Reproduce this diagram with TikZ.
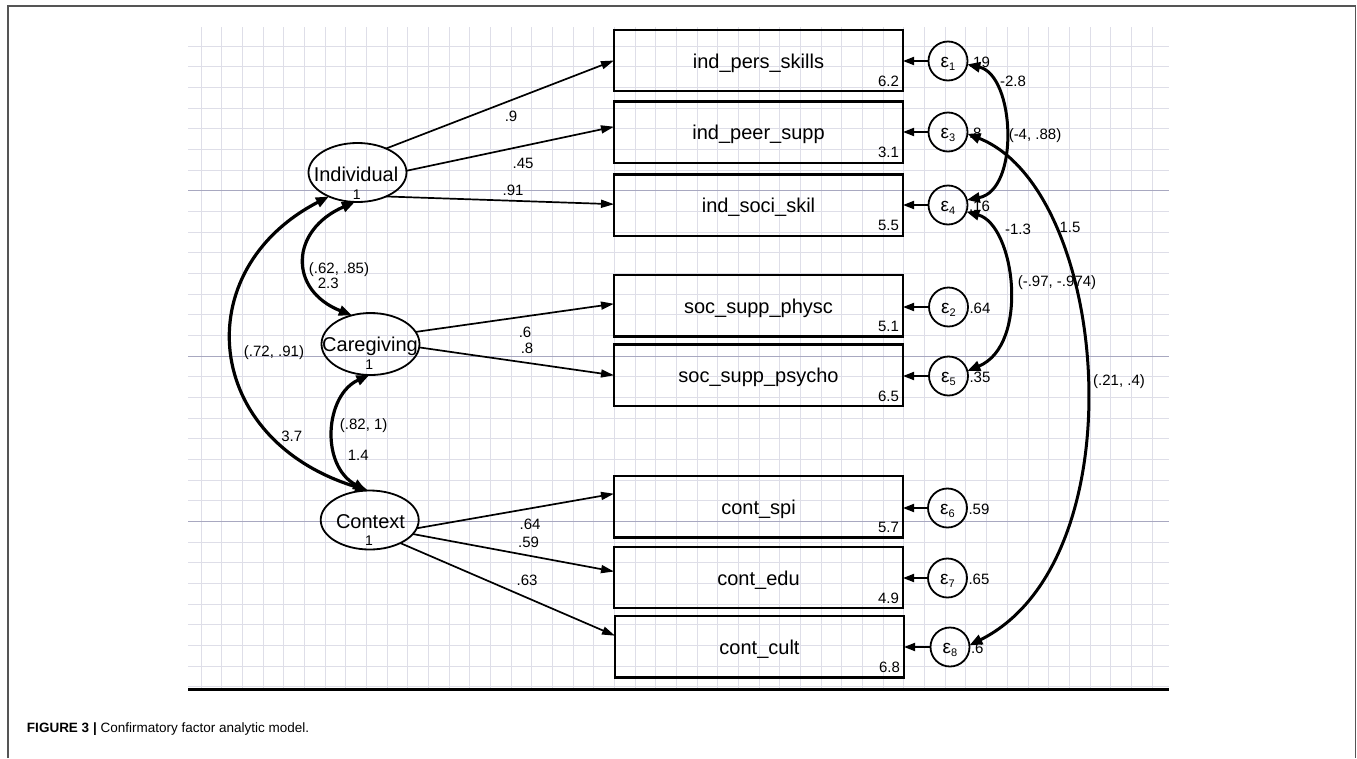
\documentclass[tikz,border=0pt]{standalone}
\usepackage{fontspec}
\setmainfont{Liberation Sans}
\usetikzlibrary{arrows.meta,shapes.geometric,calc}
\definecolor{gridc}{RGB}{222,222,232}
\definecolor{gridd}{RGB}{168,168,192}
\definecolor{framec}{RGB}{85,85,85}
\begin{document}
\begin{tikzpicture}[x=1pt,y=-1pt,
  every node/.style={inner sep=0pt, outer sep=0pt},
  obs/.style={draw, line width=2.2pt, minimum width=289pt, minimum height=61.5pt, text height=15pt, text depth=0pt, font=\fontsize{20}{24}\selectfont},
  lat/.style={draw, ellipse, line width=1.8pt, minimum width=98pt, minimum height=59pt},
  err/.style={draw, circle, line width=1.8pt, minimum size=39pt, text height=12pt, text depth=0pt, font=\fontsize{19}{22}\selectfont},
  latlab/.style={font=\fontsize{20}{24}\selectfont, anchor=base},
  one/.style={font=\fontsize{14}{16}\selectfont, anchor=base},
  num/.style={font=\fontsize{15}{18}\selectfont},
  load/.style={line width=1.7pt, -{Triangle[length=13pt,width=8pt]}},
  earrow/.style={line width=1.8pt, -{Triangle[length=11pt,width=8pt]}},
  cov/.style={line width=3.2pt, {Triangle[length=13pt,width=10pt]}-{Triangle[length=13pt,width=10pt]}},
  gridl/.style={draw=gridc, line width=1pt},
  gridk/.style={draw=gridd, line width=1pt}
]
\useasboundingbox (0,0) rectangle (1357,758);
% frame
\draw[framec, line width=1.3pt] (8,758) -- (8,6) -- (1355.7,6) -- (1355.7,758);
% grid
\foreach \i in {0,...,46} \draw[gridl] ({201+20.675*\i},27) -- ({201+20.675*\i},689);
\foreach \k in {0,...,31} \draw[gridl] (188,{46+20.67*\k}) -- (1169,{46+20.67*\k});
\foreach \k in {7,15,23} \draw[gridk] (188,{46+20.67*\k}) -- (1169,{46+20.67*\k});
\draw[black, line width=3pt] (188,689) -- (1169,689);

% observed variables
\node[obs] (b1) at (758.5,60.5) {ind\_pers\_skills};
\node[obs] (b2) at (758.5,132.2) {ind\_peer\_supp};
\node[obs] (b3) at (758.5,205.2) {ind\_soci\_skil};
\node[obs] (b4) at (758.5,305.8) {soc\_supp\_physc};
\node[obs] (b5) at (758.5,375.3) {soc\_supp\_psycho};
\node[obs] (b6) at (758.5,506.7) {cont\_spi};
\node[obs] (b7) at (758.5,577.5) {cont\_edu};
\node[obs] (b8) at (759.5,646.7) {cont\_cult};

\node[num, anchor=base east] (m1) at ($(b1.south east)+(-4,-5)$) {6.2};
\node[num, anchor=base east] (m2) at ($(b2.south east)+(-4,-5)$) {3.1};
\node[num, anchor=base east] (m3) at ($(b3.south east)+(-4,-5)$) {5.5};
\node[num, anchor=base east] (m4) at ($(b4.south east)+(-4,-5)$) {5.1};
\node[num, anchor=base east] (m5) at ($(b5.south east)+(-4,-5)$) {6.5};
\node[num, anchor=base east] (m6) at ($(b6.south east)+(-4,-5)$) {5.7};
\node[num, anchor=base east] (m7) at ($(b7.south east)+(-4,-5)$) {4.9};
\node[num, anchor=base east] (m8) at ($(b8.south east)+(-4,-5)$) {6.8};

% latent variables
\node[lat] (ind) at (357.5,172.5) {};
\node[lat, minimum height=62pt] (care) at (370.5,344) {};
\node[lat] (ctx) at (369.7,520) {};
\node[latlab] (tind) at (356,181.7) {Individual};
\node[one] (oind) at (356.7,199.3) {1};
\node[latlab] (tcare) at (370,351.7) {Caregiving};
\node[one] (ocare) at (369.3,369.3) {1};
\node[latlab] (tctx) at (370.5,528.3) {Context};
\node[one] (octx) at (369,545) {1};

% error terms
\node[err] (e1) at (948,61) {ε\raisebox{-3pt}{\fontsize{11}{12}\selectfont 1}};
\node[err] (e3) at (948,132) {ε\raisebox{-3pt}{\fontsize{11}{12}\selectfont 3}};
\node[err] (e4) at (948,205) {ε\raisebox{-3pt}{\fontsize{11}{12}\selectfont 4}};
\node[err] (e2) at (948.5,307) {ε\raisebox{-3pt}{\fontsize{11}{12}\selectfont 2}};
\node[err] (e5) at (948.5,376) {ε\raisebox{-3pt}{\fontsize{11}{12}\selectfont 5}};
\node[err] (e6) at (947.5,508) {ε\raisebox{-3pt}{\fontsize{11}{12}\selectfont 6}};
\node[err] (e7) at (947.5,578) {ε\raisebox{-3pt}{\fontsize{11}{12}\selectfont 7}};
\node[err] (e8) at (950,647) {ε\raisebox{-3pt}{\fontsize{11}{12}\selectfont 8}};

\foreach \e/\b in {e1/b1,e3/b2,e4/b3,e2/b4,e5/b5,e6/b6,e7/b7,e8/b8}
  \draw[earrow] (\e.west) -- (\e.west -| \b.east);

% variances
\node[num, anchor=base west] (v1) at ($(e1.east)+(1.5,6.5)$) {.19};
\node[num, anchor=base west] (v3) at ($(e3.east)+(1.5,6.5)$) {.8};
\node[num, anchor=base west] (v4) at ($(e4.east)+(1.5,6.5)$) {.16};
\node[num, anchor=base west] (v2) at ($(e2.east)+(1.5,6.5)$) {.64};
\node[num, anchor=base west] (v5) at ($(e5.east)+(1.5,6.5)$) {.35};
\node[num, anchor=base west] (v6) at ($(e6.east)+(1.5,6.5)$) {.59};
\node[num, anchor=base west] (v7) at ($(e7.east)+(1.5,6.5)$) {.65};
\node[num, anchor=base west] (v8) at ($(e8.east)+(1.5,6.5)$) {.6};

% loadings
\draw[load] (ind.40) -- (b1.west);
\draw[load] (ind.2) -- ([yshift=5.5pt]b2.west);
\draw[load] (ind.-40) -- ([yshift=1pt]b3.west);
\draw[load] (care.15) -- ([yshift=2pt]b4.west);
\draw[load] (care.-4) -- (b5.west);
\draw[load] (ctx.-10) -- ([yshift=13pt]b6.west);
\draw[load] (ctx.-18) -- ([yshift=6pt]b7.west);
\draw[load] (ctx.-37) -- ([yshift=11pt]b8.west);

\node[num] (l1) at (511,116.7) {.9};
\node[num] (l2) at (523,163) {.45};
\node[num] (l3) at (513,190.7) {.91};
\node[num] (l4) at (525,332) {.6};
\node[num] (l5) at (527,348.5) {.8};
\node[num] (l6) at (530,524.5) {.64};
\node[num] (l7) at (528.5,542) {.59};
\node[num] (l8) at (527,580) {.63};

% covariance labels (left)
\node[num] (c1a) at (339,269.3) {(.62, .85)};
\node[num] (c1b) at (328.3,283) {2.3};
\node[num] (c2a) at (274,352.7) {(.72, .91)};
\node[num] (c2b) at (291.7,436) {3.7};
\node[num] (c3a) at (363.7,426) {(.82, 1)};
\node[num] (c3b) at (358.3,455.7) {1.4};
% covariance labels (right)
\node[num] (r1a) at (1013,81) {-2.8};
\node[num] (r1b) at (1035,136) {(-4, .88)};
\node[num] (r2a) at (1018,229) {-1.3};
\node[num] (r2b) at (1057,283) {(-.97, -.974)};
\node[num] (r3a) at (1070,227) {1.5};
\node[num] (r3b) at (1119,382) {(.21, .4)};

% covariances
\draw[cov] (ind.265) .. controls (290,230) and (288,290) .. (care.123);
\draw[cov] (ind.220) .. controls (187,270) and (202,440) .. (ctx.93);
\draw[cov] (care.268) .. controls (325,395) and (320,465) .. (ctx.97);
\draw[cov, line width=3pt] (e1.-10) .. controls (1015,75) and (1020,190) .. (e4.15);
\draw[cov, line width=3pt] (e4.-20) .. controls (1015,225) and (1030,345) .. (e5.15);
\draw[cov, line width=3pt] (e3.-5) .. controls (1110,190) and (1140,560) .. (e8.5);

% caption
\node[anchor=base west, font=\fontsize{13.5}{16}\selectfont] (cap) at (27,732) {\textbf{FIGURE 3 |} Confirmatory factor analytic model.};
\end{tikzpicture}
\end{document}
